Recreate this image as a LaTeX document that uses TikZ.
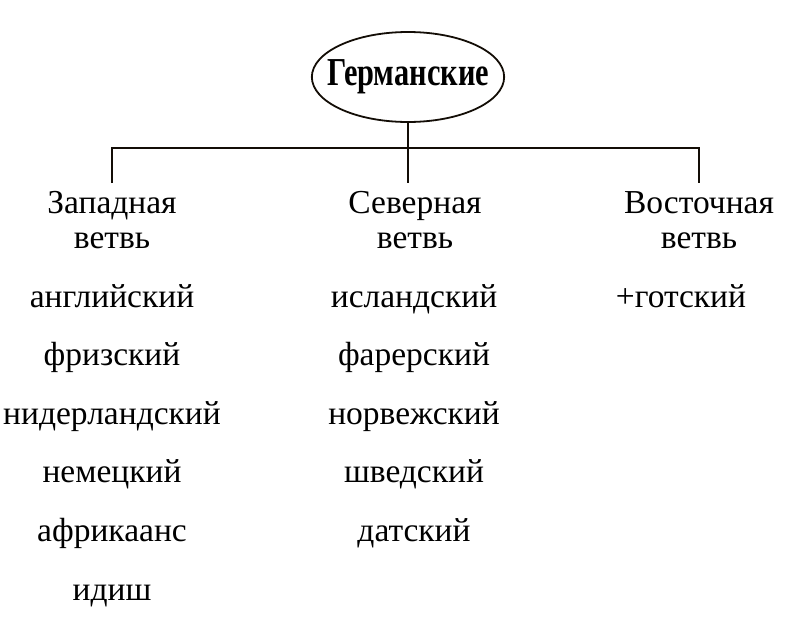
\documentclass[tikz,border=0pt]{standalone}
\usepackage{fontspec}
\setmainfont{Liberation Serif}
\usetikzlibrary{positioning, shapes.geometric}
\tikzset{
  root/.style={ellipse, draw=black!90!brown, line width=1.8pt,
               minimum width=190pt, minimum height=90pt,
               inner xsep=-13pt, inner ysep=0pt,
               font=\fontsize{33pt}{35pt}\selectfont\bfseries},
  branch/.style={align=center, inner xsep=0pt, inner ysep=7.5pt,
                 anchor=base, font=\fontsize{33.5pt}{35pt}\selectfont},
  lang/.style={anchor=base, inner sep=0pt,
               font=\fontsize{33.5pt}{35pt}\selectfont},
  link/.style={draw=black!90!brown, line width=1.6pt},
}
\begin{document}
\begin{tikzpicture}[x=1pt, y=-1pt]
  \useasboundingbox (0,0) rectangle (802,624);
  \node[root] (germ) at (408,77) {\scalebox{0.92}[1.2]{Германские}};
  \coordinate (bar) at (407,148);
  \node[branch] (west) at (112,248) {Западная\\ветвь};
  \node[branch] (north) at (415,248) {Северная\\ветвь};
  \node[branch] (east) at (699,248) {Восточная\\ветвь};
  \draw[link] (germ.south) -- (germ.south |- north.north);
  \draw[link] (west.north) |- (bar) -| (east.north);
  % languages of each branch
  \foreach \lang [count=\i] in {английский, фризский, нидерландский,
                               немецкий, африкаанс, идиш}
    \node[lang] (w\i) at (112,{307+58.6*(\i-1)}) {\lang};
  \foreach \lang [count=\i] in {исландский, фарерский, норвежский,
                               шведский, датский}
    \node[lang] (n\i) at (414,{307+58.6*(\i-1)}) {\lang};
  \node[lang] (e1) at (681,307) {+готский};
\end{tikzpicture}
\end{document}
